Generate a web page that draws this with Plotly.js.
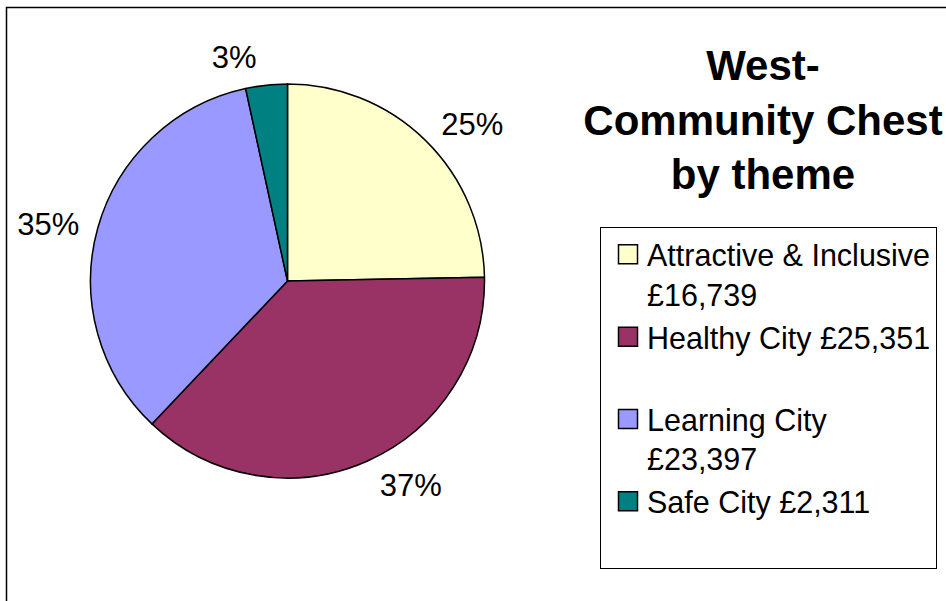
<!DOCTYPE html>
<html>
<head>
<meta charset="utf-8">
<script src="https://cdn.plot.ly/plotly-3.0.1.min.js"></script>
<style>
  html, body { margin: 0; padding: 0; background: #fff; }
  #chart { width: 946px; height: 601px; }
</style>
</head>
<body>
<div id="chart"></div>
<script>
// Data
const themes = ["Attractive & Inclusive", "Healthy City", "Learning City", "Safe City"];
const amounts = [16739, 25351, 23397, 2311];
const legendLabels = ["Attractive & Inclusive<br>£16,739", "Healthy City £25,351<br> ", "Learning City<br>£23,397", "Safe City £2,311<br> "];
const sliceColors = ["#FFFFCC", "#993366", "#9999FF", "#008080"];

const W = 946, H = 601;
const cx = 287.5, cy = 281, r = 197;
const labelR = r + 10; // labels sit a little further out than Plotly's default

function domainFor(rad) {
  return { x: [(cx - rad) / W, (cx + rad) / W], y: [1 - (cy + rad) / H, 1 - (cy - rad) / H] };
}

const FONT = "Liberation Sans, Arial, sans-serif";

const pieTrace = {
  type: "pie",
  labels: legendLabels,
  values: amounts,
  customdata: themes,
  sort: false,
  direction: "clockwise",
  rotation: 0,
  marker: { colors: sliceColors, line: { color: "#000000", width: 1.5 } },
  textinfo: "none",
  domain: domainFor(r),
  hoverinfo: "label+value+percent"
};

// Same data, transparent, only used to place the percentage labels
const labelTrace = {
  type: "pie",
  labels: themes,
  values: amounts,
  sort: false,
  direction: "clockwise",
  rotation: 0,
  showlegend: false,
  marker: { colors: ["rgba(0,0,0,0)", "rgba(0,0,0,0)", "rgba(0,0,0,0)", "rgba(0,0,0,0)"], line: { width: 0 } },
  texttemplate: "%{percent:.0%}",
  textposition: "outside",
  outsidetextfont: { family: FONT, size: 31, color: "#000000" },
  domain: domainFor(labelR),
  hoverinfo: "skip"
};

const layout = {
  width: W, height: H,
  margin: { l: 0, r: 0, t: 0, b: 0 },
  paper_bgcolor: "#ffffff",
  font: { family: FONT, color: "#000000" },
  title: {
    text: "<b>West-<br>Community Chest<br>by theme</b>",
    font: { family: FONT, size: 42, color: "#000000" },
    x: 763 / W, xanchor: "center", xref: "container",
    y: 1 - 80 / H, yanchor: "top", yref: "container"
  },
  showlegend: true,
  legend: {
    x: 600 / W, xanchor: "left",
    y: 1 - 227 / H, yanchor: "top",
    bordercolor: "#000000", borderwidth: 1,
    bgcolor: "#ffffff",
    valign: "top",
    itemwidth: 36,
    font: { family: FONT, size: 30.5, color: "#000000" }
  },
  shapes: [{
    type: "rect", xref: "paper", yref: "paper",
    x0: 6.5 / W, x1: 1.02, y0: -0.02, y1: 1 - 7.5 / H,
    line: { color: "#000000", width: 1.5 }, fillcolor: "rgba(0,0,0,0)", layer: "below"
  }]
};

Plotly.newPlot("chart", [labelTrace, pieTrace], layout, { displayModeBar: false, staticPlot: true }).then(function (gd) {
  // enlarge the legend swatches to match the reference
  gd.querySelectorAll(".legendpie").forEach(function (p) {
    p.setAttribute("d", "M13.5,9.5H-5.5V-9.5H13.5Z");
  });
});
</script>
</body>
</html>
